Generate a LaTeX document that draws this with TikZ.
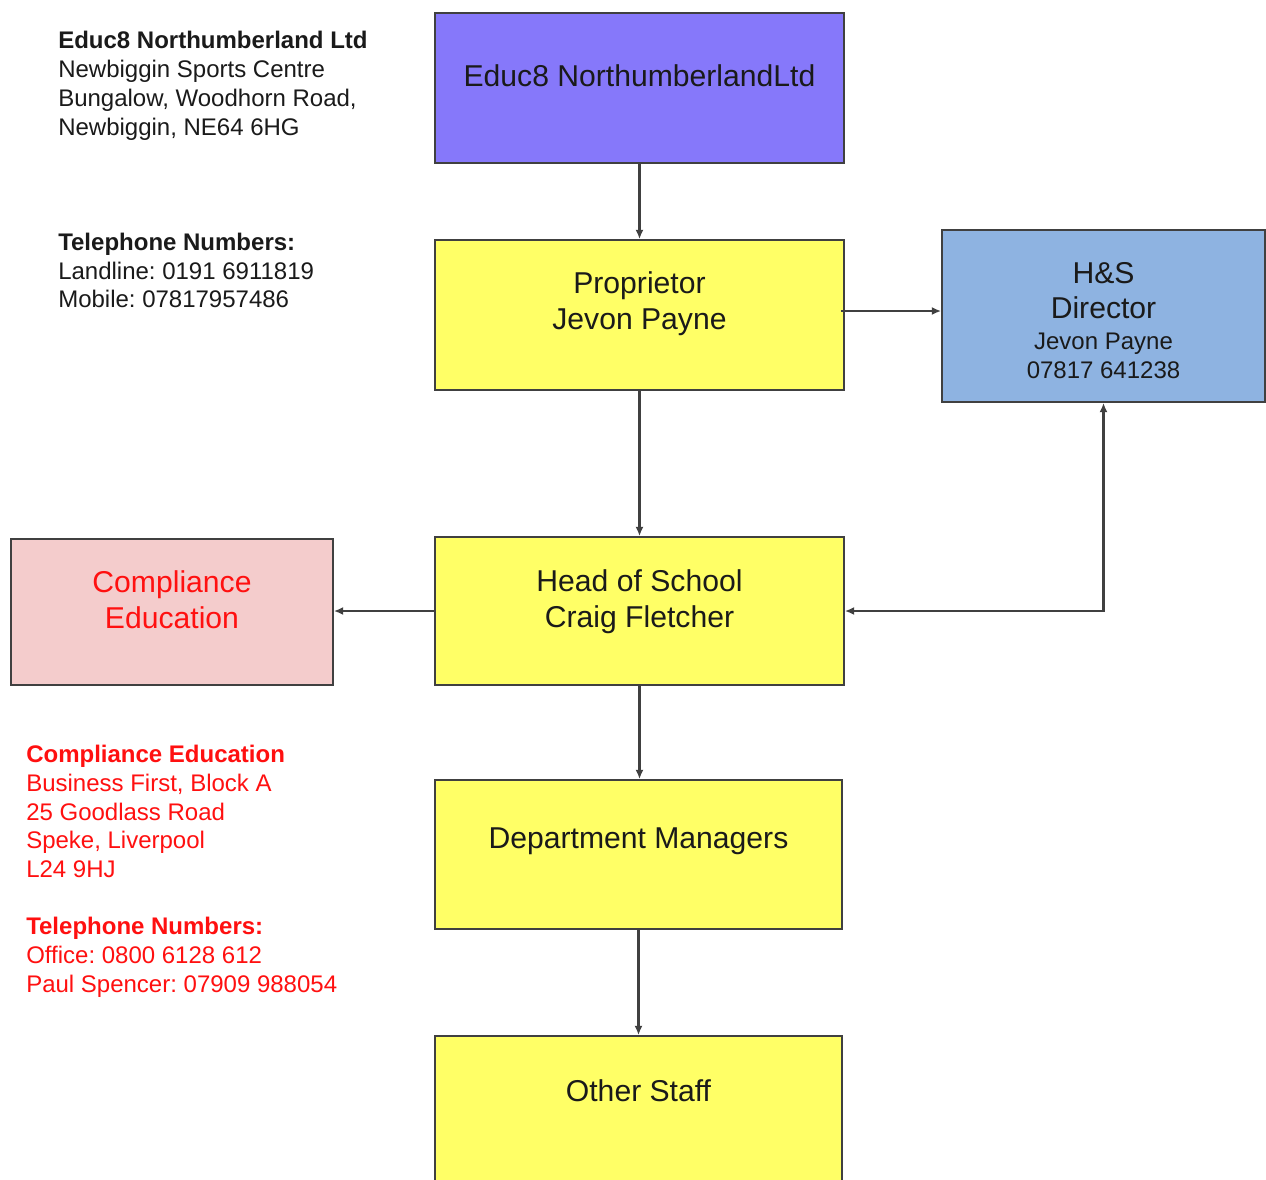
\documentclass[tikz,border=0pt]{standalone}
\usepackage{fontspec}
\setmainfont{Liberation Sans}
\frenchspacing
\usetikzlibrary{arrows.meta,fit}
\definecolor{edgec}{HTML}{404040}
\definecolor{textc}{HTML}{1A1A1A}
\definecolor{purplefill}{HTML}{8678FA}
\definecolor{yellowfill}{HTML}{FFFF66}
\definecolor{bluefill}{HTML}{8EB3E1}
\definecolor{pinkfill}{HTML}{F4CCCC}
\definecolor{redtext}{HTML}{FF1010}
\begin{document}
\begin{tikzpicture}[x=0.75pt,y=-0.75pt,
  box/.style={draw=edgec,line width=1.3pt,inner sep=0pt},
  big/.style={font=\fontsize{22.6}{26}\selectfont,text=textc,anchor=base,inner sep=0pt},
  small/.style={font=\fontsize{18}{21}\selectfont,text=textc,anchor=base,inner sep=0pt},
  info/.style={font=\fontsize{18}{21}\selectfont,anchor=base west,inner sep=0pt},
  arr/.style={draw=edgec,line width=1.6pt,-{Latex[length=7pt,width=6pt]}},
  arrboth/.style={draw=edgec,line width=1.6pt,{Latex[length=7pt,width=6pt]}-{Latex[length=7pt,width=6pt]}}]
\useasboundingbox (0,0) rectangle (1266,1179);
\clip (0,0) rectangle (1266,1179);
\fill[white] (0,0) rectangle (1266,1179);

% boxes
\node[box,fill=purplefill,fit={(435,13) (844,163)}] (educ) {};
\node[box,fill=yellowfill,fit={(435,240) (844,390)}] (prop) {};
\node[box,fill=bluefill,fit={(942,230) (1265,402)}] (hs) {};
\node[box,fill=pinkfill,fit={(11,539) (333,685)}] (comp) {};
\node[box,fill=yellowfill,fit={(435,537) (844,685)}] (head) {};
\node[box,fill=yellowfill,fit={(435,780) (842,929)}] (dept) {};
\node[box,fill=yellowfill,fit={(435,1036) (842,1195)}] (other) {};

% box texts
\node[big] (educT) at (639.5,86) {Educ8 NorthumberlandLtd};
\node[big] (propT1) at (639.5,293) {Proprietor};
\node[big] (propT2) at (639.5,329) {Jevon Payne};
\node[big] (hsT1) at (1103.5,283) {H\&S};
\node[big] (hsT2) at (1103.5,318) {Director};
\node[small] (hsT3) at (1103.5,349) {Jevon Payne};
\node[small] (hsT4) at (1103.5,378) {07817 641238};
\node[big,text=redtext] (compT1) at (172,592) {Compliance};
\node[big,text=redtext] (compT2) at (172,628) {Education};
\node[big] (headT1) at (639.5,591) {Head of School};
\node[big] (headT2) at (639.5,627) {Craig Fletcher};
\node[big] (deptT) at (638.5,848) {Department Managers};
\node[big] (otherT) at (638.5,1101) {Other Staff};

% left info text
\foreach \yy/\txt in {48/{\textbf{Educ8 Northumberland Ltd}},77/{Newbiggin Sports Centre},106/{Bungalow, Woodhorn Road,},135/{Newbiggin, NE64 6HG},250/{\textbf{Telephone Numbers:}},279/{Landline: 0191 6911819},307/{Mobile: 07817957486}}
  \node[info,text=textc] (addr\yy) at (58,\yy) {\txt};
\foreach \yy/\txt in {762/{\textbf{Compliance Education}},791/{Business First, Block A},820/{25 Goodlass Road},848/{Speke, Liverpool},877/{L24 9HJ},934/{\textbf{Telephone Numbers:}},963/{Office: 0800 6128 612},992/{Paul Spencer: 07909 988054}}
  \node[info,text=redtext] (comp\yy) at (26,\yy) {\txt};

% connectors
\draw[arr] (educ.south) -- (prop.north);
\draw[arr] ([yshift=3pt,xshift=-3pt]prop.east) -- ([yshift=3pt]prop.east -| hs.west);
\draw[arr] (prop.south) -- (head.north);
\draw[arr] (head.west) -- (head.west -| comp.east);
\draw[arrboth] (hs.south) |- (head.east);
\draw[arr] (head.south) -- (head.south |- dept.north);
\draw[arr] (dept.south) -- (dept.south |- other.north);
\end{tikzpicture}
\end{document}
